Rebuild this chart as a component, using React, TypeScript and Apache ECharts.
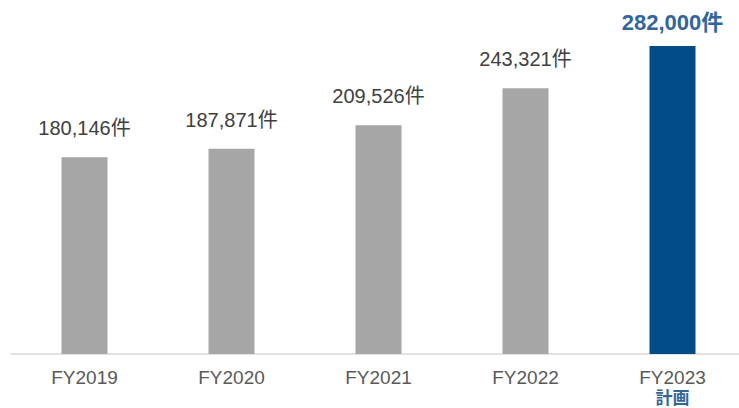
import React, { useEffect, useRef } from "react";
import * as echarts from "echarts";

const categories = ["FY2019", "FY2020", "FY2021", "FY2022", "FY2023"];
const values = [180146, 187871, 209526, 243321, 282000];
const planIndex = 4;
const planNote = "計画";
const unit = "件";

const FONT = '"Liberation Sans", Arial, "Noto Sans CJK JP", sans-serif';
const GRAY = "#a6a6a6";
const BLUE = "#004c86";
const LABEL_BLUE = "#31659c";

export default function App() {
  const ref = useRef<HTMLDivElement>(null);
  useEffect(() => {
    if (!ref.current) return;
    const chart = echarts.init(ref.current, null, { renderer: "svg" });
    const fmt = (v: number) => v.toLocaleString("en-US") + unit;
    chart.setOption({
      animation: false,
      textStyle: { fontFamily: FONT },
      grid: {
        left: 11,
        right: -7,
        top: 46,
        bottom: 54,
        containLabel: false,
        outerBoundsMode: "none",
      },
      xAxis: {
        type: "category",
        data: categories,
        axisLine: { show: true, lineStyle: { color: "#d9d9d9", width: 1.5 } },
        axisTick: { show: false },
        axisLabel: {
          margin: 11,
          fontSize: 19,
          lineHeight: 24,
          color: "#595959",
          fontFamily: FONT,
          interval: 0,
          formatter: (v: string, i: number) =>
            i === planIndex ? `{a|${v}}\n{b|${planNote}}` : v,
          rich: {
            a: { fontSize: 19, lineHeight: 24, color: "#595959", fontFamily: FONT },
            b: {
              fontSize: 17,
              lineHeight: 19,
              color: LABEL_BLUE,
              fontWeight: "bold",
              fontFamily: FONT,
            },
          },
        },
      },
      yAxis: {
        type: "value",
        min: 0,
        max: 282000,
        show: false,
        splitLine: { show: false },
      },
      series: [
        {
          type: "bar",
          barWidth: 46,
          data: values.map((v, i) =>
            i === planIndex
              ? {
                  value: v,
                  itemStyle: { color: BLUE },
                  label: {
                    show: true,
                    position: "top",
                    distance: 13,
                    fontSize: 22,
                    lineHeight: 22,
                    fontWeight: "bold",
                    color: LABEL_BLUE,
                    fontFamily: FONT,
                    formatter: () => fmt(v),
                  },
                }
              : {
                  value: v,
                  itemStyle: { color: GRAY },
                  label: {
                    show: true,
                    position: "top",
                    distance: 19,
                    fontSize: 20,
                    lineHeight: 20,
                    color: "#404040",
                    fontFamily: FONT,
                    formatter: () => fmt(v),
                  },
                }
          ),
        },
      ],
    });
    return () => chart.dispose();
  }, []);
  return (
    <div
      ref={ref}
      style={{ position: "fixed", left: 0, top: 0, width: 739, height: 408, background: "#fff" }}
    />
  );
}
